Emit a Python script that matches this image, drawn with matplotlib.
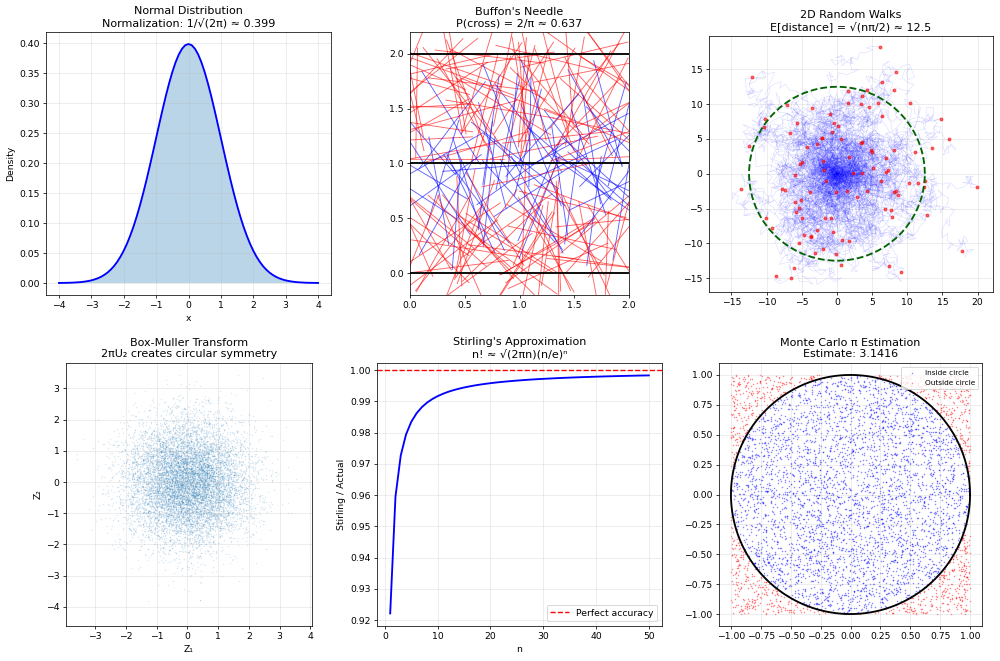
import numpy as np
import matplotlib
matplotlib.use("Agg")
import matplotlib.pyplot as plt

# ---------------- data ----------------
normal_x_pos = [0.0, 0.1, 0.2, 0.3, 0.4, 0.5, 0.6, 0.7, 0.8, 0.9, 1.0, 1.1, 1.2, 1.3, 1.4,
                1.5, 1.6, 1.7, 1.8, 1.9, 2.0, 2.1, 2.2, 2.3, 2.4, 2.5, 2.6, 2.7, 2.8, 2.9,
                3.0, 3.1, 3.2, 3.3, 3.4, 3.5, 3.6, 3.7, 3.8, 3.9, 4.0]
normal_density_pos = [0.3989, 0.3970, 0.3910, 0.3814, 0.3683, 0.3521, 0.3332, 0.3123,
                      0.2897, 0.2661, 0.2420, 0.2179, 0.1942, 0.1714, 0.1497, 0.1295,
                      0.1109, 0.0940, 0.0790, 0.0656, 0.0540, 0.0440, 0.0355, 0.0283,
                      0.0224, 0.0175, 0.0136, 0.0104, 0.0079, 0.0060, 0.0044, 0.0033,
                      0.0024, 0.0017, 0.0012, 0.0009, 0.0006, 0.0004, 0.0003, 0.0002, 0.0001]

stirling_n = list(range(1, 51))
stirling_ratio = [0.92214, 0.95950, 0.97270, 0.97942, 0.98349, 0.98621, 0.98817, 0.98964,
                  0.99078, 0.99170, 0.99245, 0.99308, 0.99361, 0.99406, 0.99446, 0.99480,
                  0.99511, 0.99538, 0.99562, 0.99584, 0.99604, 0.99622, 0.99638, 0.99653,
                  0.99667, 0.99680, 0.99692, 0.99703, 0.99713, 0.99722, 0.99731, 0.99740,
                  0.99748, 0.99755, 0.99762, 0.99769, 0.99775, 0.99781, 0.99786, 0.99792,
                  0.99797, 0.99802, 0.99806, 0.99811, 0.99815, 0.99819, 0.99823, 0.99827,
                  0.99830, 0.99833]

buffon_lines = [0.0, 1.0, 2.0]
walk_radius = 12.5
mc_estimate_text = "3.1416"

# mirror the half curve to the full symmetric curve
normal_x = [-v for v in normal_x_pos[:0:-1]] + normal_x_pos
normal_density = normal_density_pos[:0:-1] + normal_density_pos

# stochastic samples (the reference panels are simulations)
rng = np.random.default_rng(7)
n_needles = 200
needle_len = 1.0
nx = rng.uniform(0, 2, n_needles)
ny = rng.uniform(0, 2, n_needles)
nth = rng.uniform(0, np.pi, n_needles)

n_walks, n_steps = 100, 100
angles = rng.uniform(0, 2 * np.pi, (n_walks, n_steps))

n_bm = 10000
u1 = rng.uniform(0, 1, n_bm)
u2 = rng.uniform(0, 1, n_bm)

n_mc = 5000
mcx = rng.uniform(-1, 1, n_mc)
mcy = rng.uniform(-1, 1, n_mc)

# ---------------- figure ----------------
W, H = 1000, 661
fig = plt.figure(figsize=(15, 15 * H / W), dpi=W / 15)

def box(l, r, t, b):
    return [l / W, 1 - b / H, (r - l) / W, (b - t) / H]

# 1. Normal distribution
ax = fig.add_axes(box(46, 331, 32, 295))
ax.plot(normal_x, normal_density, color="blue", lw=2)
ax.fill_between(normal_x, normal_density, alpha=0.3)
ax.set_xlim(-4.4, 4.4)
ax.set_ylim(-0.02, 0.419)
ax.set_title("Normal Distribution\nNormalization: 1/√(2π) ≈ 0.399", fontsize=12)
ax.set_xlabel("x")
ax.set_ylabel("Density")
ax.grid(True, alpha=0.3)

# 2. Buffon's needle
ax = fig.add_axes(box(410, 629, 32, 295))
for yl in buffon_lines:
    ax.axhline(yl, color="black", lw=2, zorder=3)
for x0, y0, th in zip(nx, ny, nth):
    dx = 0.5 * needle_len * np.cos(th)
    dy = 0.5 * needle_len * np.sin(th)
    ya, yb = y0 - dy, y0 + dy
    crosses_mid = ya <= 1.0 <= yb
    ax.plot([x0 - dx, x0 + dx], [ya, yb], color="blue" if crosses_mid else "red",
            alpha=0.6, lw=1)
ax.set_xlim(0, 2)
ax.set_ylim(-0.2, 2.2)
ax.set_title("Buffon's Needle\nP(cross) = 2/π ≈ 0.637", fontsize=12)

# 3. Random walks
ax = fig.add_axes(box(709, 993, 36, 292))
ex, ey = [], []
for i in range(n_walks):
    px = np.concatenate([[0], np.cumsum(np.cos(angles[i]))])
    py = np.concatenate([[0], np.cumsum(np.sin(angles[i]))])
    ax.plot(px, py, color="blue", alpha=0.17, lw=0.5)
    ex.append(px[-1]); ey.append(py[-1])
ax.scatter(ex, ey, color="red", s=10, alpha=0.6, zorder=3)
t = np.linspace(0, 2 * np.pi, 200)
ax.plot(walk_radius * np.cos(t), walk_radius * np.sin(t), color="darkgreen",
        ls="--", lw=2, zorder=4)
ax.set_xlim(-18.2, 22.2)
ax.set_ylim(-17.0, 19.8)
ax.set_title("2D Random Walks\nE[distance] = √(nπ/2) ≈ 12.5", fontsize=12)
ax.grid(True, alpha=0.3)

# 4. Box-Muller
ax = fig.add_axes(box(66, 312, 363, 626))
r = np.sqrt(-2 * np.log(u1))
z1 = r * np.cos(2 * np.pi * u2)
z2 = r * np.sin(2 * np.pi * u2)
ax.scatter(z1, z2, s=0.3, alpha=0.15)
ax.set_xlim(-3.94, 4.05)
ax.set_ylim(-4.61, 3.81)
ax.set_title("Box-Muller Transform\n2πU₂ creates circular symmetry", fontsize=12)
ax.set_xlabel("Z₁")
ax.set_ylabel("Z₂")
ax.grid(True, alpha=0.3)

# 5. Stirling
ax = fig.add_axes(box(377, 662, 363, 626))
ax.plot(stirling_n, stirling_ratio, color="blue", lw=2)
ax.axhline(1.0, color="red", ls="--", label="Perfect accuracy")
ax.set_xlim(-1.5, 52.5)
ax.set_ylim(0.9181, 1.0023)
ax.set_title("Stirling's Approximation\nn! ≈ √(2πn)(n/e)ⁿ", fontsize=12)
ax.set_xlabel("n")
ax.set_ylabel("Stirling / Actual")
ax.legend(loc="lower right")
ax.grid(True, alpha=0.3)

# 6. Monte Carlo pi
ax = fig.add_axes(box(719, 982, 363, 626))
inside = mcx ** 2 + mcy ** 2 <= 1
ax.scatter(mcx[inside], mcy[inside], color="blue", s=0.5, alpha=0.4,
           label="Inside circle")
ax.scatter(mcx[~inside], mcy[~inside], color="red", s=0.5, alpha=0.4,
           label="Outside circle")
ax.plot(np.cos(t), np.sin(t), color="black", lw=2)
ax.set_xlim(-1.1, 1.1)
ax.set_ylim(-1.1, 1.1)
ax.set_title("Monte Carlo π Estimation\nEstimate: " + mc_estimate_text, fontsize=12)
ax.legend(loc="upper right", fontsize=8)
ax.grid(True, alpha=0.3)

fig.savefig("out.png", dpi=W / 15)
